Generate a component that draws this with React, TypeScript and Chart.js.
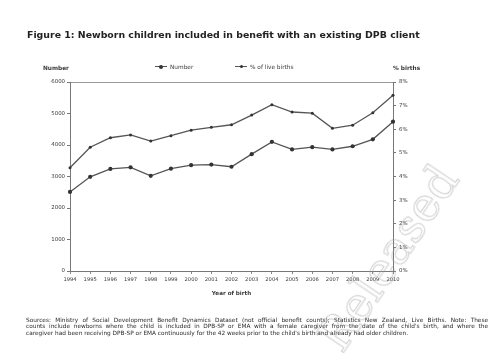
import React, { useEffect, useRef } from "react";
import { Chart, registerables } from "chart.js";

Chart.register(...registerables);

const years = ["1994", "1995", "1996", "1997", "1998", "1999", "2000", "2001", "2002", "2003", "2004", "2005", "2006", "2007", "2008", "2009", "2010"];
const numberValues = [2510, 2990, 3240, 3290, 3020, 3250, 3360, 3380, 3310, 3710, 4100, 3860, 3930, 3860, 3960, 4180, 4740];
const percentValues = [4.37, 5.24, 5.64, 5.76, 5.5, 5.73, 5.96, 6.08, 6.19, 6.6, 7.04, 6.73, 6.68, 6.04, 6.17, 6.7, 7.44];

const titleText = "Figure 1:  Newborn children included in benefit with an existing DPB client";
const leftAxisTitle = "Number";
const rightAxisTitle = "% births";
const xAxisTitle = "Year of birth";
const seriesNames = ["Number", "% of live births"];
const footnoteLines = [
  "Sources:  Ministry of Social Development Benefit Dynamics Dataset (not official benefit counts); Statistics New Zealand, Live Births. Note: These",
  "counts include newborns where the child is included in DPB-SP or EMA with a female caregiver from the date of the child's birth, and where the",
  "caregiver had been receiving DPB-SP or EMA continuously for the 42 weeks prior to the child's birth and already had older children.",
];

const FONT = "'DejaVu Sans', 'Liberation Sans', sans-serif";
const INK = "#3a3a3a";

export default function App() {
  const canvasRef = useRef<HTMLCanvasElement | null>(null);

  useEffect(() => {
    const canvas = canvasRef.current;
    if (!canvas) return;
    const chart = new Chart(canvas, {
      type: "line",
      data: {
        labels: years,
        datasets: [
          {
            label: seriesNames[0],
            data: numberValues,
            yAxisID: "y",
            borderColor: "#555",
            backgroundColor: "#333",
            borderWidth: 1.3,
            pointRadius: 2.1,
            pointBorderWidth: 0,
            pointBackgroundColor: "#333",
            tension: 0,
          },
          {
            label: seriesNames[1],
            data: percentValues,
            yAxisID: "y1",
            borderColor: "#555",
            backgroundColor: "#333",
            borderWidth: 1.3,
            pointRadius: 1.5,
            pointBorderWidth: 0,
            pointBackgroundColor: "#333",
            tension: 0,
          },
        ],
      },
      options: {
        animation: false,
        responsive: false,
        maintainAspectRatio: false,
        layout: { padding: { top: 82, left: 0, right: 0, bottom: 54 } },
        plugins: {
          legend: { display: false },
          tooltip: { enabled: false },
          title: { display: false },
        },
        scales: {
          x: {
            type: "category",
            offset: false,
            afterFit: (scale: any) => {
              scale.height = 29;
            },
            grid: {
              offset: false,
              drawOnChartArea: false,
              tickLength: 3,
              color: "#888",
            },
            border: { display: true, color: "#777", width: 1 },
            ticks: {
              autoSkip: false,
              maxRotation: 0,
              minRotation: 0,
              padding: 3,
              color: INK,
              font: { family: FONT, size: 5.2 },
            },
            title: {
              display: true,
              text: xAxisTitle,
              color: INK,
              padding: { top: 2, bottom: 3 },
              font: { family: FONT, size: 5.6, weight: "bold" },
            },
          },
          y: {
            position: "left",
            min: 0,
            max: 6000,
            afterFit: (scale: any) => {
              scale.width = 70;
            },
            grid: {
              drawOnChartArea: true,
              color: (ctx: any) => (ctx.tick && ctx.tick.value === 6000 ? "#999" : "rgba(0,0,0,0)"),
              tickColor: "#777",
              tickLength: 3,
            },
            border: { display: true, color: "#777", width: 1 },
            ticks: {
              stepSize: 1000,
              padding: 2,
              color: INK,
              font: { family: FONT, size: 5.4 },
              callback: (v: any) => String(v),
            },
          },
          y1: {
            position: "right",
            min: 0,
            max: 8,
            afterFit: (scale: any) => {
              scale.width = 108;
            },
            grid: {
              drawOnChartArea: false,
              tickColor: "#777",
              tickLength: 3,
            },
            border: { display: true, color: "#777", width: 1 },
            ticks: {
              stepSize: 1,
              padding: 3,
              color: INK,
              font: { family: FONT, size: 5.4 },
              callback: (v: any) => `${v}%`,
            },
          },
        },
      },
    });
    return () => chart.destroy();
  }, []);

  const legendMarker = (dotSize: number) => (
    <span style={{ position: "relative", display: "inline-block", width: 12, height: 6, marginRight: 3 }}>
      <span style={{ position: "absolute", left: 0, top: 2.5, width: 12, height: 1.2, background: "#555" }} />
      <span
        style={{
          position: "absolute",
          left: 6 - dotSize / 2,
          top: 3.1 - dotSize / 2,
          width: dotSize,
          height: dotSize,
          borderRadius: "50%",
          background: "#333",
        }}
      />
    </span>
  );

  return (
    <div style={{ position: "absolute", left: 0, top: 0, width: 501, height: 354, background: "#fff", overflow: "hidden", fontFamily: FONT, color: INK }}>
      <canvas ref={canvasRef} width={501} height={354} style={{ position: "absolute", left: 0, top: 0, width: 501, height: 354 }} />
      <div style={{ position: "absolute", left: 27, top: 29, fontSize: 9.4, fontWeight: "bold", whiteSpace: "nowrap", color: "#222" }}>{titleText}</div>
      <div style={{ position: "absolute", left: 43, top: 64.5, fontSize: 5.8, fontWeight: "bold", whiteSpace: "nowrap" }}>{leftAxisTitle}</div>
      <div style={{ position: "absolute", left: 393, top: 64.5, fontSize: 5.8, fontWeight: "bold", whiteSpace: "nowrap" }}>{rightAxisTitle}</div>
      <div style={{ position: "absolute", left: 155, top: 63.5, fontSize: 5.8, whiteSpace: "nowrap", display: "flex", alignItems: "center" }}>
        {legendMarker(4.2)}
        <span>{seriesNames[0]}</span>
      </div>
      <div style={{ position: "absolute", left: 235, top: 63.5, fontSize: 5.8, whiteSpace: "nowrap", display: "flex", alignItems: "center" }}>
        {legendMarker(3)}
        <span>{seriesNames[1]}</span>
      </div>
      {footnoteLines.map((line, i) => (
        <div
          key={i}
          style={{
            position: "absolute",
            left: 26,
            top: 316.5 + i * 6.6,
            width: i < 2 ? 462 : undefined,
            fontSize: 5.8,
            lineHeight: "6.6px",
            whiteSpace: "nowrap",
            textAlign: "justify",
            textAlignLast: i < 2 ? "justify" : "left",
            color: "#2a2a2a",
          }}
        >
          {line}
        </div>
      ))}
      <div
        style={{
          position: "absolute",
          left: 388,
          top: 258,
          transform: "translate(-50%, -50%) rotate(-56deg)",
          fontFamily: "'DejaVu Serif', 'Liberation Serif', serif",
          fontSize: 46,
          color: "rgba(255,255,255,0)",
          WebkitTextStroke: "1px rgba(160,160,160,0.5)",
          whiteSpace: "nowrap",
          pointerEvents: "none",
        }}
      >
        Released
      </div>
    </div>
  );
}
